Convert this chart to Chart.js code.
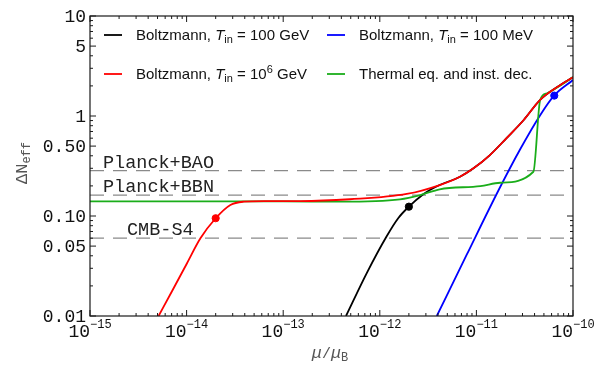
<!DOCTYPE html>
<html>
<head>
<meta charset="utf-8">
<script src="https://cdn.jsdelivr.net/npm/chart.js@4/dist/chart.umd.min.js"></script>
<style>
  html, body { margin: 0; padding: 0; background: #fff; }
  #wrap { width: 607px; height: 366px; }
</style>
</head>
<body>
<div id="wrap"><canvas id="c" width="607" height="366"></canvas></div>
<script>
// mu / mu_B values and Delta N_eff
const redX = [5.13e-15, 7.08e-15, 1.01e-14, 1.39e-14, 2.0e-14, 2.84e-14, 3.89e-14, 6.3e-14, 1.51e-13, 4.9e-13, 1.9e-12, 4.17e-12, 6.76e-12, 9.33e-12, 1.38e-11, 2.04e-11, 3.09e-11, 4.57e-11, 7.4e-11, 1e-10];
const redY = [0.01, 0.0178, 0.0337, 0.0598, 0.095, 0.129, 0.139, 0.141, 0.141, 0.147, 0.166, 0.204, 0.247, 0.30, 0.407, 0.598, 0.912, 1.45, 2.04, 2.44];

const blackX = [4.47e-13, 7.35e-13, 1.17e-12, 1.55e-12, 2.0e-12, 2.82e-12, 3.3e-12, 4.17e-12, 6.76e-12, 9.33e-12, 1.38e-11, 2.04e-11, 3.09e-11, 4.57e-11, 7.4e-11, 1e-10];
const blackY = [0.01, 0.027, 0.062, 0.095, 0.124, 0.165, 0.182, 0.204, 0.247, 0.30, 0.407, 0.598, 0.912, 1.45, 2.04, 2.44];

const blueX = [3.89e-12, 7.94e-12, 1.7e-11, 2.82e-11, 4.57e-11, 6.37e-11, 1e-10];
const blueY = [0.01, 0.041, 0.182, 0.46, 1.02, 1.60, 2.29];

const greenX = [1e-15, 1e-13, 4e-13, 1.62e-12, 2.63e-12, 4.17e-12, 1.1e-11, 1.76e-11, 3.89e-11, 4.57e-11, 5.37e-11, 7.4e-11, 1e-10];
const greenY = [0.14, 0.14, 0.139, 0.147, 0.162, 0.185, 0.199, 0.215, 0.277, 1.445, 1.69, 2.02, 2.45];

// marked points
const redDot = [2.0e-14, 0.095];
const blackDot = [2.0e-12, 0.124];
const blueDot = [6.4e-11, 1.60];

// experimental bounds
const boundNames = ['Planck+BAO', 'Planck+BBN', 'CMB-S4'];
const boundValues = [0.284, 0.162, 0.060];

// ticks
const xRange = [1e-15, 1e-10];
const yRange = [0.01, 10];
const xTickExp = ['\u221215', '\u221214', '\u221213', '\u221212', '\u221211', '\u221210'];
const yTickVals = [0.01, 0.05, 0.1, 0.5, 1, 5, 10];
const yTickText = ['0.01', '0.05', '0.10', '0.50', '1', '5', '10'];

const legendNames = ['Boltzmann, T_in = 100 GeV', 'Boltzmann, T_in = 100 MeV', 'Boltzmann, T_in = 10^6 GeV', 'Thermal eq. and inst. dec.'];

const pts = (xs, ys) => xs.map((v, i) => ({ x: v, y: ys[i] }));

const RED = '#ff0000', BLACK = '#000000', BLUE = '#0000ff', GREEN = '#1aad1a', GRAY = '#8a8a8a';
const MONO = '"Liberation Mono", "DejaVu Sans Mono", monospace';
const SANS = '"Liberation Sans", Arial, sans-serif';

function curve(label, data, color, order) {
  return {
    label, data, borderColor: color, backgroundColor: color, borderWidth: 1.8,
    pointRadius: 0, fill: false, cubicInterpolationMode: 'monotone', order
  };
}
function dot(data, color) {
  return { data: [{ x: data[0], y: data[1] }], showLine: false, pointRadius: 3.6,
    pointBackgroundColor: color, pointBorderColor: color, order: 0 };
}

const datasets = [
  dot(redDot, RED), dot(blackDot, BLACK), dot(blueDot, BLUE),
  curve(legendNames[2], pts(redX, redY), RED, 1),
  curve(legendNames[3], pts(greenX, greenY), GREEN, 2),
  curve(legendNames[1], pts(blueX, blueY), BLUE, 3),
  curve(legendNames[0], pts(blackX, blackY), BLACK, 4)
];
boundValues.forEach(v => datasets.push({
  data: [{ x: xRange[0], y: v }, { x: xRange[1], y: v }],
  borderColor: GRAY, borderWidth: 1.3, borderDash: [14, 9], pointRadius: 0, order: 9
}));

// draw a run of text pieces: [text, font, dy]
function rich(ctx, parts, x, y, align) {
  let w = 0;
  parts.forEach(p => { ctx.font = p[1]; w += ctx.measureText(p[0]).width; });
  let cx = align === 'center' ? x - w / 2 : (align === 'right' ? x - w : x);
  parts.forEach(p => {
    ctx.font = p[1];
    ctx.fillText(p[0], cx, y + (p[2] || 0));
    cx += ctx.measureText(p[0]).width;
  });
}

const overlay = {
  id: 'overlay',
  afterDraw(chart) {
    const { ctx, chartArea: a, scales: { x, y } } = chart;
    ctx.save();
    ctx.textAlign = 'left';
    ctx.textBaseline = 'alphabetic';

    // frame
    ctx.strokeStyle = '#1a1a1a';
    ctx.lineWidth = 1.2;
    ctx.strokeRect(a.left, a.top, a.right - a.left, a.bottom - a.top);

    // x ticks
    ctx.lineWidth = 1;
    for (let d = -15; d <= -10; d++) {
      for (let k = 1; k <= 9; k++) {
        if (d === -10 && k > 1) break;
        const px = x.getPixelForValue(k * Math.pow(10, d));
        const len = k === 1 ? 6 : 3;
        ctx.beginPath();
        ctx.moveTo(px, a.bottom); ctx.lineTo(px, a.bottom - len);
        ctx.moveTo(px, a.top); ctx.lineTo(px, a.top + len);
        ctx.stroke();
      }
    }
    // y ticks
    for (let d = -2; d <= 1; d++) {
      for (let k = 1; k <= 9; k++) {
        if (d === 1 && k > 1) break;
        const py = y.getPixelForValue(k * Math.pow(10, d));
        const len = (k === 1 || k === 5) ? 6 : 3;
        ctx.beginPath();
        ctx.moveTo(a.left, py); ctx.lineTo(a.left + len, py);
        ctx.moveTo(a.right, py); ctx.lineTo(a.right - len, py);
        ctx.stroke();
      }
    }

    // tick labels
    ctx.fillStyle = '#111';
    xTickExp.forEach((e, i) => {
      const px = x.getPixelForValue(Math.pow(10, -15 + i));
      rich(ctx, [['10', '18px ' + MONO], [e, '12px ' + MONO, -9]], px, a.bottom + 21, 'center');
    });
    ctx.textBaseline = 'middle';
    ctx.textAlign = 'right';
    ctx.font = '18px ' + MONO;
    yTickVals.forEach((v, i) => ctx.fillText(yTickText[i], a.left - 4, y.getPixelForValue(v) + 1));
    ctx.textAlign = 'left';
    ctx.textBaseline = 'alphabetic';

    // bound labels
    const boundX = [103, 103, 127];
    ctx.font = '18.5px ' + MONO;
    ctx.fillStyle = '#222';
    boundNames.forEach((n, i) => ctx.fillText(n, boundX[i], y.getPixelForValue(boundValues[i]) - 3));

    // legend
    const rows = [
      [BLACK, 104, 35, [['Boltzmann, ', '15px ' + SANS], ['T', 'italic 15px ' + SANS], ['in', '11px ' + SANS, 3], [' = 100 GeV', '15px ' + SANS]]],
      [BLUE, 327, 35, [['Boltzmann, ', '15px ' + SANS], ['T', 'italic 15px ' + SANS], ['in', '11px ' + SANS, 3], [' = 100 MeV', '15px ' + SANS]]],
      [RED, 104, 74, [['Boltzmann, ', '15px ' + SANS], ['T', 'italic 15px ' + SANS], ['in', '11px ' + SANS, 3], [' = 10', '15px ' + SANS], ['6', '11px ' + SANS, -6], [' GeV', '15px ' + SANS]]],
      [GREEN, 327, 74, [['Thermal eq. and inst. dec.', '15px ' + SANS]]]
    ];
    rows.forEach(r => {
      ctx.strokeStyle = r[0];
      ctx.lineWidth = 1.8;
      ctx.beginPath(); ctx.moveTo(r[1], r[2]); ctx.lineTo(r[1] + 18, r[2]); ctx.stroke();
      ctx.fillStyle = '#111';
      rich(ctx, r[3], r[1] + 32, r[2] + 5, 'left');
    });

    // axis titles
    ctx.fillStyle = '#555';
    rich(ctx, [['\u03bc', 'italic 17px ' + MONO], ['/', '15px ' + MONO], ['\u03bc', 'italic 17px ' + MONO], ['B', '12px ' + MONO, 3]], 330, 358, 'center');
    ctx.translate(27, 163);
    ctx.rotate(-Math.PI / 2);
    rich(ctx, [['\u0394N', '17px ' + MONO], ['eff', '12px ' + MONO, 3]], 0, 0, 'center');
    ctx.restore();
  }
};

new Chart(document.getElementById('c'), {
  type: 'line',
  data: { datasets },
  options: {
    responsive: false,
    animation: false,
    layout: { padding: { left: 90, right: 34, top: 16, bottom: 50 } },
    plugins: { legend: { display: false }, tooltip: { enabled: false } },
    scales: {
      x: { type: 'logarithmic', min: xRange[0], max: xRange[1], display: false },
      y: { type: 'logarithmic', min: yRange[0], max: yRange[1], display: false }
    }
  },
  plugins: [overlay]
});
</script>
</body>
</html>
